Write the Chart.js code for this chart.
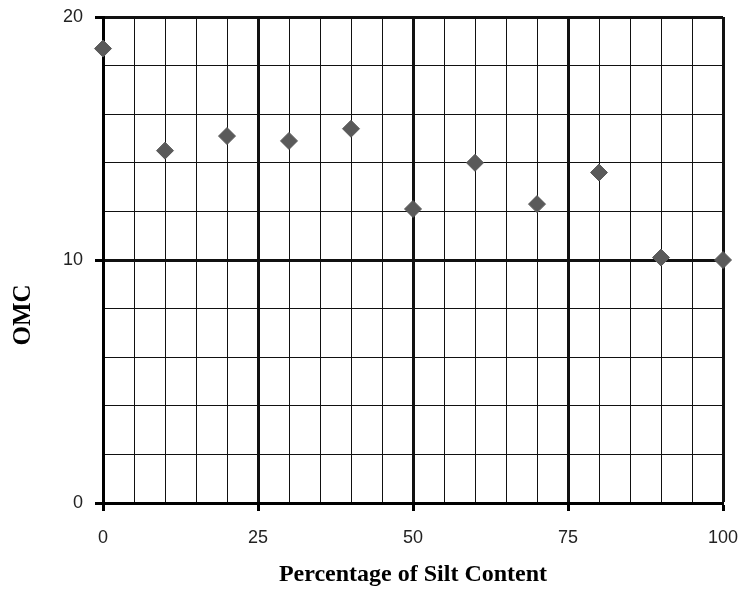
<!DOCTYPE html>
<html>
<head>
<meta charset="utf-8">
<script src="https://cdn.jsdelivr.net/npm/chart.js@4.4.1/dist/chart.umd.min.js"></script>
<style>
  html, body { margin: 0; padding: 0; background: #fff; }
  #wrap { width: 743px; height: 594px; }
</style>
</head>
<body>
<div id="wrap"><canvas id="myChart"></canvas></div>
<script>
// silt content (%) vs optimum moisture content
const siltContent = [0, 10, 20, 30, 40, 50, 60, 70, 80, 90, 100];
const omcValues = [18.7, 14.5, 15.1, 14.9, 15.4, 12.1, 14.0, 12.3, 13.6, 10.1, 10.0];

const xTickLabels = [0, 25, 50, 75, 100];
const yTickLabels = [0, 10, 20];

const tickFont = { family: "'Liberation Sans', Arial, sans-serif", size: 18 };

// OMC is drawn by hand so it can sit below the middle of the axis
const yTitle = {
  id: "yTitle",
  afterDraw(chart) {
    const { ctx, chartArea } = chart;
    ctx.save();
    ctx.translate(chartArea.left - 79, (chartArea.top + chartArea.bottom) / 2 + 55);
    ctx.rotate(-Math.PI / 2);
    ctx.font = "bold 25px 'Liberation Serif', serif";
    ctx.fillStyle = "#000";
    ctx.textAlign = "center";
    ctx.textBaseline = "middle";
    ctx.fillText("OMC", 0, 0);
    ctx.restore();
  },
};

const isMajorX = (v) => v % 25 === 0;
const isMajorY = (v) => v % 10 === 0;

new Chart(document.getElementById("myChart").getContext("2d"), {
  type: "scatter",
  data: {
    datasets: [
      {
        label: "OMC",
        data: siltContent.map((x, i) => ({ x: x, y: omcValues[i] })),
        pointStyle: "rectRot",
        pointRadius: 8.5,
        backgroundColor: "#5a5a5a",
        borderColor: "#5a5a5a",
        borderWidth: 1,
        clip: false,
      },
    ],
  },
  options: {
    responsive: true,
    maintainAspectRatio: false,
    animation: false,
    layout: { padding: { top: 17, right: 20, left: 0, bottom: 0 } },
    plugins: {
      legend: { display: false },
      tooltip: { enabled: false },
    },
    scales: {
      x: {
        type: "linear",
        min: 0,
        max: 100,
        afterFit: (scale) => {
          scale.height = 91;
          scale.paddingLeft = 0;
          scale.paddingRight = 0;
        },
        ticks: {
          stepSize: 5,
          autoSkip: false,
          maxRotation: 0,
          padding: 16,
          color: "#222",
          font: tickFont,
          callback: (v) => (xTickLabels.includes(v) ? v : ""),
        },
        grid: {
          color: "#111",
          lineWidth: (c) => (c.tick && (isMajorX(c.tick.value)) && c.tick.value !== 0 ? 3 : 1),
          tickLength: 8,
          tickWidth: 3,
          tickColor: (c) => (c.tick && isMajorX(c.tick.value) ? "#000" : "rgba(0,0,0,0)"),
        },
        border: { color: "#000", width: 3 },
        title: {
          display: true,
          text: "Percentage of Silt Content",
          color: "#000",
          font: { family: "'Liberation Serif', serif", size: 24, weight: "bold" },
          padding: { top: 0, bottom: 5 },
        },
      },
      y: {
        type: "linear",
        min: 0,
        max: 20,
        afterFit: (scale) => {
          scale.width = 103;
          scale.paddingTop = 0;
          scale.paddingBottom = 0;
        },
        ticks: {
          stepSize: 2,
          autoSkip: false,
          padding: 12,
          color: "#222",
          font: tickFont,
          callback: (v) => (yTickLabels.includes(v) ? v : ""),
        },
        grid: {
          color: "#111",
          lineWidth: (c) => (c.tick && isMajorY(c.tick.value) && c.tick.value !== 0 ? 3 : 1),
          tickLength: 8,
          tickWidth: 3,
          tickColor: (c) => (c.tick && isMajorY(c.tick.value) ? "#000" : "rgba(0,0,0,0)"),
        },
        border: { color: "#000", width: 3 },
      },
    },
  },
  plugins: [yTitle],
});
</script>
</body>
</html>
